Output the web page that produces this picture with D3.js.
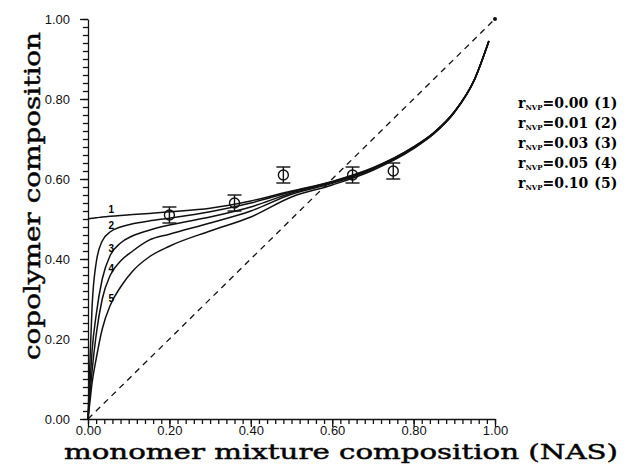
<!DOCTYPE html>
<html>
<head>
<meta charset="utf-8">
<script src="https://cdn.jsdelivr.net/npm/d3@7"></script>
<style>
  body { margin: 0; background: #fff; }
  .tick text { font-family: "Liberation Sans", Arial, sans-serif; font-size: 13px; fill: #111; }
  .domain, .tick line { stroke: #111; stroke-width: 1.3; }
</style>
</head>
<body>
<div id="chart"></div>
<script>
// Chart data
//=================================
var feedX = [0, 0.005, 0.01, 0.02, 0.035, 0.055, 0.08, 0.11, 0.15, 0.2, 0.3, 0.4, 0.5, 0.6, 0.7, 0.8, 0.85, 0.9, 0.95, 0.985];

var curve1 = [0.500, 0.501, 0.502, 0.503, 0.505, 0.507, 0.509, 0.511, 0.514, 0.518, 0.527, 0.545, 0.570, 0.594, 0.628, 0.680, 0.716, 0.768, 0.850, 0.945];
var curve2 = [0.000, 0.150, 0.280, 0.390, 0.445, 0.468, 0.480, 0.488, 0.495, 0.502, 0.518, 0.540, 0.568, 0.593, 0.627, 0.680, 0.716, 0.768, 0.850, 0.945];
var curve3 = [0.000, 0.090, 0.170, 0.260, 0.350, 0.410, 0.440, 0.458, 0.472, 0.485, 0.505, 0.530, 0.565, 0.591, 0.626, 0.679, 0.715, 0.767, 0.850, 0.945];
var curve4 = [0.000, 0.065, 0.120, 0.210, 0.300, 0.360, 0.395, 0.420, 0.447, 0.462, 0.490, 0.520, 0.562, 0.589, 0.625, 0.678, 0.714, 0.767, 0.849, 0.945];
var curve5 = [0.000, 0.045, 0.090, 0.150, 0.225, 0.285, 0.330, 0.370, 0.405, 0.432, 0.470, 0.505, 0.555, 0.585, 0.622, 0.676, 0.713, 0.766, 0.849, 0.945];

var curveLabels = ["1", "2", "3", "4", "5"];

var pointX = [0.20, 0.36, 0.48, 0.65, 0.75];
var pointY = [0.51, 0.54, 0.61, 0.61, 0.62];
var pointErr = [0.02, 0.02, 0.02, 0.02, 0.02];

var legendValues = ["0.00", "0.01", "0.03", "0.05", "0.10"];

var tickValues = [0, 0.2, 0.4, 0.6, 0.8, 1.0];

// Step 1: Set up our chart
//=================================
var svg_width = 627;
var svg_height = 465;

var margin = { top: 19, right: 132, bottom: 46, left: 88 };
var width = svg_width - margin.left - margin.right;   // 407
var height = svg_height - margin.top - margin.bottom; // 400

var svg = d3.select("#chart")
  .append("svg")
  .attr("width", svg_width)
  .attr("height", svg_height);

var chartGroup = svg.append("g")
  .attr("transform", `translate(${margin.left}, ${margin.top})`);

var xScale = d3.scaleLinear().domain([0, 1]).range([0, width]);
var yScale = d3.scaleLinear().domain([0, 1]).range([height, 0]);

var minorTicks = d3.range(0, 1.0001, 0.02);

// minor ticks
chartGroup.append("g")
  .attr("transform", `translate(0, ${height})`)
  .call(d3.axisBottom(xScale).tickValues(minorTicks).tickSize(5).tickFormat(""))
  .select(".domain").remove();
chartGroup.append("g")
  .call(d3.axisLeft(yScale).tickValues(minorTicks).tickSize(5).tickFormat(""))
  .select(".domain").remove();

// major ticks + labels
chartGroup.append("g")
  .attr("transform", `translate(0, ${height})`)
  .call(d3.axisBottom(xScale).tickValues(tickValues).tickSize(8).tickSizeOuter(0).tickFormat(d3.format(".2f")))
  .selectAll(".tick text").attr("y", 9).attr("dy", "0.55em");
chartGroup.append("g")
  .call(d3.axisLeft(yScale).tickValues(tickValues).tickSize(8).tickSizeOuter(0).tickFormat(d3.format(".2f")))
  .selectAll(".tick text").attr("x", -18);

// diagonal dashed line
chartGroup.append("line")
  .attr("x1", xScale(0)).attr("y1", yScale(0))
  .attr("x2", xScale(1)).attr("y2", yScale(1))
  .attr("stroke", "#111")
  .attr("stroke-width", 1.3)
  .attr("stroke-dasharray", "6,5");
chartGroup.append("circle")
  .attr("cx", xScale(1)).attr("cy", yScale(1))
  .attr("r", 2).attr("fill", "#111");

// theory curves
var curves = [curve1, curve2, curve3, curve4, curve5];
var line = d3.line()
  .x(d => xScale(d[0]))
  .y(d => yScale(d[1]))
  .curve(d3.curveMonotoneX);

curves.forEach(function(c, i) {
  var pts = feedX.map((x, j) => [x, c[j]]);
  chartGroup.append("path")
    .datum(pts)
    .attr("fill", "none")
    .attr("stroke", "#111")
    .attr("stroke-width", 1.5)
    .attr("d", line);
});

// curve numbers (placed just above each curve near x = 0.055)
curves.forEach(function(c, i) {
  chartGroup.append("text")
    .attr("x", xScale(feedX[5]) - 2)
    .attr("y", yScale(c[5]) - 3)
    .attr("font-family", "Liberation Sans, Arial, sans-serif")
    .attr("font-size", 10)
    .attr("font-weight", "bold")
    .text(curveLabels[i]);
});

// experimental points with error bars
var pts = chartGroup.selectAll(".pt").data(pointX).enter()
  .append("g").attr("class", "pt");
pts.append("line")
  .attr("x1", d => xScale(d)).attr("x2", d => xScale(d))
  .attr("y1", (d, i) => yScale(pointY[i] + pointErr[i]))
  .attr("y2", (d, i) => yScale(pointY[i] - pointErr[i]))
  .attr("stroke", "#111").attr("stroke-width", 1.4);
[1, -1].forEach(function(s) {
  pts.append("line")
    .attr("x1", d => xScale(d) - 7).attr("x2", d => xScale(d) + 7)
    .attr("y1", (d, i) => yScale(pointY[i] + s * pointErr[i]))
    .attr("y2", (d, i) => yScale(pointY[i] + s * pointErr[i]))
    .attr("stroke", "#111").attr("stroke-width", 1.4);
});
pts.append("circle")
  .attr("cx", d => xScale(d))
  .attr("cy", (d, i) => yScale(pointY[i]))
  .attr("r", 5)
  .attr("fill", "none")
  .attr("stroke", "#111")
  .attr("stroke-width", 1.4);

// axis titles
svg.append("text")
  .attr("transform", `translate(40, 196) rotate(-90)`)
  .attr("text-anchor", "middle")
  .attr("font-family", "DejaVu Serif, serif")
  .attr("font-size", 23)
  .attr("stroke", "#111")
  .attr("stroke-width", 0.5)
  .attr("textLength", 328)
  .attr("lengthAdjust", "spacingAndGlyphs")
  .text("copolymer composition");

svg.append("text")
  .attr("x", 341)
  .attr("y", 459)
  .attr("text-anchor", "middle")
  .attr("font-family", "DejaVu Serif, serif")
  .attr("font-size", 21)
  .attr("stroke", "#111")
  .attr("stroke-width", 0.5)
  .attr("textLength", 554)
  .attr("lengthAdjust", "spacingAndGlyphs")
  .text("monomer mixture composition (NAS)");

// legend
var legend = svg.append("g").attr("transform", "translate(518, 0)");
legendValues.forEach(function(v, i) {
  var t = legend.append("text")
    .attr("x", 0)
    .attr("y", 108 + i * 20)
    .attr("font-family", "DejaVu Serif, serif")
    .attr("font-weight", "bold")
    .attr("font-size", 14);
  t.append("tspan").text("r");
  t.append("tspan").attr("font-size", 7).attr("dy", 2).text("NVP");
  t.append("tspan").attr("dy", -2).text("=" + v);
  t.append("tspan").attr("dx", 6).text("(" + curveLabels[i] + ")");
});
</script>
</body>
</html>
